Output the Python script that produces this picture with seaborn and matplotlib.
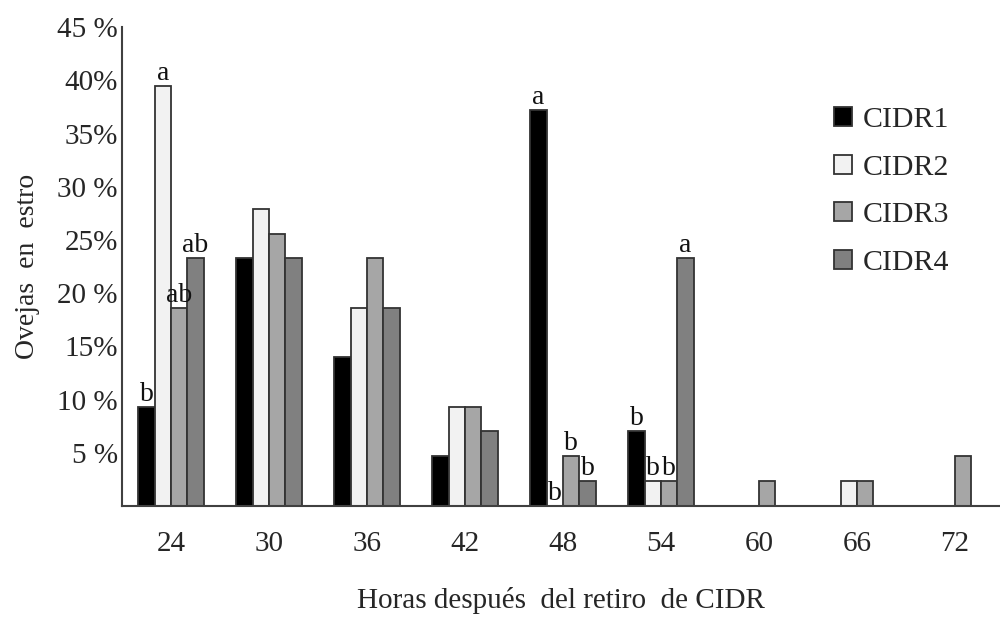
import matplotlib
matplotlib.use("Agg")
import matplotlib.pyplot as plt
import seaborn as sns
import pandas as pd

hours = ["24", "30", "36", "42", "48", "54", "60", "66", "72"]
cidr1 = [9.3, 23.3, 14.0, 4.7, 37.2, 7.0, 0, 0, 0]
cidr2 = [39.5, 27.9, 18.6, 9.3, 0, 2.3, 0, 2.3, 0]
cidr3 = [18.6, 25.6, 23.3, 9.3, 4.7, 2.3, 2.3, 2.3, 4.7]
cidr4 = [23.3, 23.3, 18.6, 7.0, 2.3, 23.3, 0, 0, 0]
series_names = ["CIDR1", "CIDR2", "CIDR3", "CIDR4"]
letters1 = ["b", "", "", "", "a", "b", "", "", ""]
letters2 = ["a", "", "", "", "b", "b", "", "", ""]
letters3 = ["ab", "", "", "", "b", "b", "", "", ""]
letters4 = ["ab", "", "", "", "b", "a", "", "", ""]
ytick_vals = [5, 10, 15, 20, 25, 30, 35, 40, 45]
ytick_labels = ["5 %", "10 %", "15%", "20 %", "25%", "30 %", "35%", "40%", "45 %"]

colors = ["#000000", "#f2f2f2", "#a6a6a6", "#808080"]

rows = []
for name, vals in zip(series_names, [cidr1, cidr2, cidr3, cidr4]):
    for h, v in zip(hours, vals):
        rows.append({"hora": h, "pct": v, "grupo": name})
df = pd.DataFrame(rows)

sns.set_style("white")
plt.rcParams["font.family"] = ["Liberation Serif", "DejaVu Serif"]

fig = plt.figure(figsize=(10, 6.17), dpi=100)
ax = fig.add_axes([0.122, 0.180, 0.878, 0.776])

sns.barplot(data=df, x="hora", y="pct", hue="grupo", order=hours,
            hue_order=series_names, palette=colors, width=0.667,
            edgecolor="#333333", linewidth=1.3, ax=ax, errorbar=None,
            saturation=1)

for cont, labs in zip(ax.containers, [letters1, letters2, letters3, letters4]):
    ax.bar_label(cont, labels=labs, padding=0, fontsize=20, color="#111111")

ax.set_xlim(-0.5, 8.46)
ax.set_ylim(0, 45)
ax.set_yticks(ytick_vals)
ax.set_yticklabels(ytick_labels, fontsize=21)
ax.tick_params(axis="x", labelsize=21, length=0, pad=18)
ax.tick_params(axis="y", length=0, pad=3)
ax.set_xlabel("Horas después  del retiro  de CIDR", fontsize=21, labelpad=22)
ax.set_ylabel("Ovejas  en  estro", fontsize=20, labelpad=12)

for s in ["top", "right"]:
    ax.spines[s].set_visible(False)
for s in ["left", "bottom"]:
    ax.spines[s].set_color("#404040")
    ax.spines[s].set_linewidth(1.5)

handles, labels = ax.get_legend_handles_labels()
if ax.get_legend() is not None:
    ax.get_legend().remove()
fig.legend(handles, labels, loc="upper left", bbox_to_anchor=(0.834, 0.826),
           frameon=False, fontsize=21.5, handlelength=0.6, handleheight=0.6,
           handletextpad=0.35, labelspacing=0.72, borderpad=0, borderaxespad=0)

fig.savefig("out.png", dpi=100)
